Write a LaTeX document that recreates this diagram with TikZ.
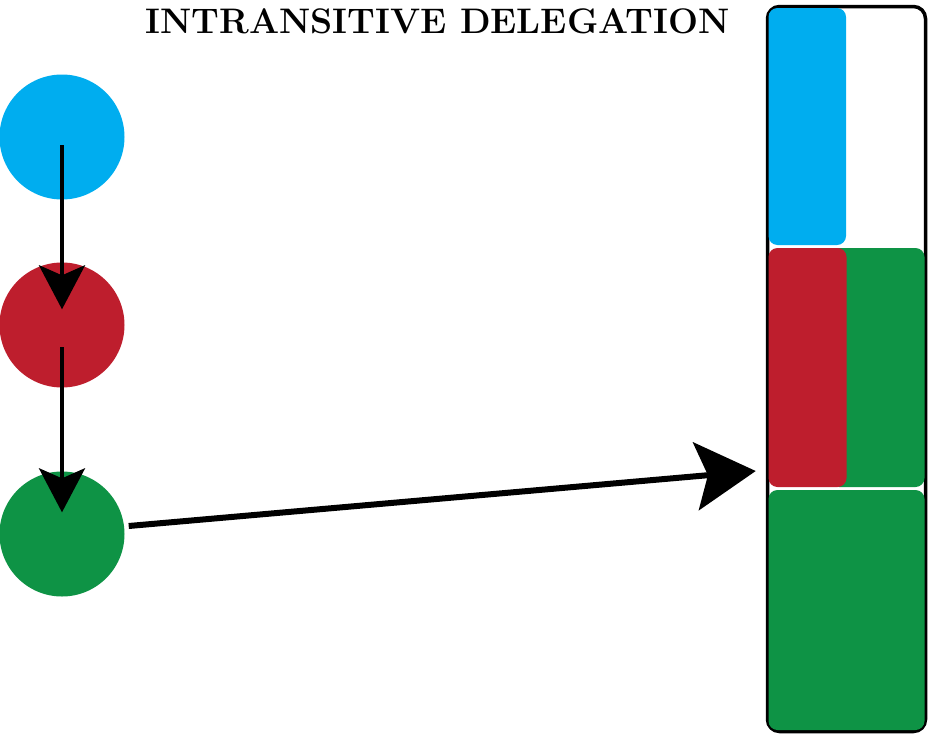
\documentclass[tikz,border=0pt]{standalone}
\usetikzlibrary{arrows.meta,calc}
\definecolor{cblue}{HTML}{00ADEF}
\definecolor{cred}{HTML}{BE1E2D}
\definecolor{cgreen}{HTML}{0E9345}
\begin{document}
\begin{tikzpicture}[x=1pt,y=-1pt,
  dot/.style={circle,minimum size=125pt,inner sep=0pt},
  seg/.style={rounded corners=9pt},
  smallarrow/.style={line width=4pt,-{Stealth[length=44pt,width=46pt,inset=10pt]}},
  bigarrow/.style={line width=6pt,-{Stealth[length=60pt,width=68pt,inset=12pt]}}]
\useasboundingbox (0,0) rectangle (929,736);
\node[font=\bfseries\fontsize{35.5}{40}\selectfont] (title) at (437.5,21) {INTRANSITIVE DELEGATION};
\node[dot,fill=cblue] (b) at (62,137) {};
\node[dot,fill=cred] (r) at (62,325) {};
\node[dot,fill=cgreen] (g) at (62,534) {};
% bar
\node[draw=black,line width=3.5pt,rounded corners=12pt,minimum width=158pt,minimum height=725pt,inner sep=0pt] (bar) at (846.5,369) {};
\fill[cblue,seg] (768.5,8) rectangle (846,245);
\fill[cgreen,seg] (830,248) rectangle (924.5,487);
\fill[cred,seg] (768.5,248) rectangle (846.5,487);
\fill[cgreen,seg] (768.5,490) rectangle (924.5,730);
\coordinate (b1) at ($(b.center)+(0,8)$);
\coordinate (r0) at ($(r.north)+(0,47)$);
\coordinate (r1) at ($(r.center)+(0,22)$);
\coordinate (g0) at ($(g.north)+(0,41)$);
\coordinate (g1) at ($(g.east)+(4,-8)$);
\coordinate (bar0) at ($(bar.west)+(-10,102)$);
\draw[smallarrow] (b1) -- (r0);
\draw[smallarrow] (r1) -- (g0);
\draw[bigarrow] (g1) -- (bar0);
\end{tikzpicture}
\end{document}
